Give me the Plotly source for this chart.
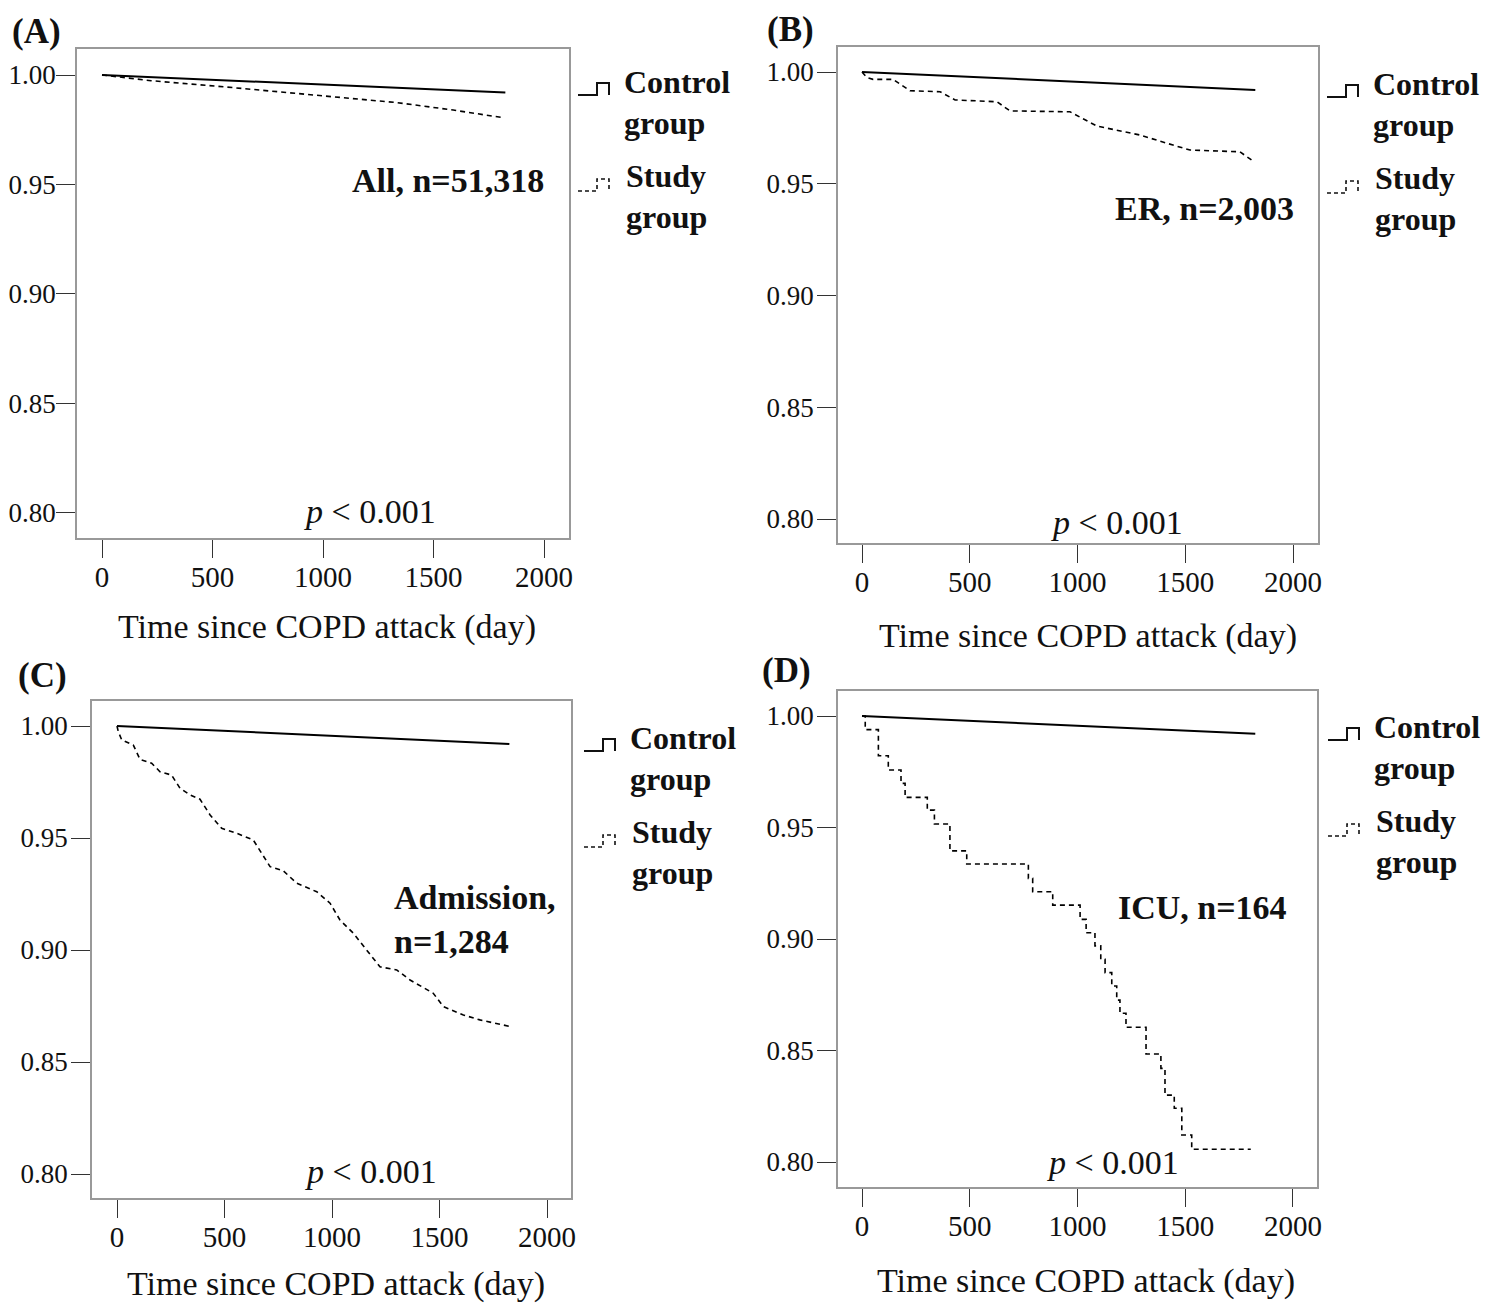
import plotly.graph_objects as go

# viewport 1489x1304; the page body has an 8px margin
OFF = 8
W, H = 1489 - OFF, 1304 - OFF

# ---------------- data ----------------
x_ticks = [0, 500, 1000, 1500, 2000]
y_ticks = [0.80, 0.85, 0.90, 0.95, 1.00]

control_days = [0, 365, 730, 1095, 1460, 1825]
control_surv = [1.0, 0.9984, 0.9968, 0.9952, 0.9936, 0.9920]

all_study_days = [0, 100, 222, 564, 955, 1333, 1589, 1815]
all_study_surv = [1.0, 0.9988, 0.9974, 0.9945, 0.9909, 0.9874, 0.9840, 0.9805]

er_study_days = [0, 22, 51, 144, 223, 362, 432, 626, 687, 965, 1090, 1211, 1290, 1443, 1522, 1754, 1814]
er_study_surv = [1.0, 0.9976, 0.9967, 0.9967, 0.9916, 0.9912, 0.9875, 0.9867, 0.9826, 0.9822,
                 0.9758, 0.9733, 0.9718, 0.9673, 0.9651, 0.9643, 0.9602]

adm_study_days = [0, 6, 22, 76, 107, 161, 200, 254, 293, 340, 386, 433, 487, 557, 634, 680, 712, 773,
                  836, 929, 991, 1037, 1099, 1161, 1223, 1301, 1363, 1471, 1518, 1611, 1688, 1831]
adm_study_surv = [1.0, 0.9975, 0.9938, 0.9915, 0.9851, 0.9834, 0.9796, 0.9781, 0.9722, 0.9692, 0.9673,
                  0.9603, 0.9543, 0.9521, 0.9491, 0.9417, 0.9372, 0.9354, 0.9298, 0.9260, 0.9209,
                  0.9134, 0.9075, 0.9000, 0.8925, 0.8911, 0.8866, 0.8807, 0.8747, 0.8710, 0.8688, 0.8658]

icu_study_days = [0, 15, 76, 122, 181, 200, 303, 336, 408, 486, 772, 792, 885, 1012, 1040, 1081, 1108,
                  1128, 1159, 1182, 1197, 1225, 1318, 1387, 1406, 1449, 1484, 1530, 1804]
icu_study_surv = [1.0, 0.9939, 0.9822, 0.9758, 0.9698, 0.9635, 0.9578, 0.9516, 0.9395, 0.9336, 0.9272,
                  0.9212, 0.9152, 0.9088, 0.9028, 0.8969, 0.8909, 0.8849, 0.8789, 0.8726, 0.8667,
                  0.8604, 0.8484, 0.8420, 0.8300, 0.8241, 0.8121, 0.8057, 0.8057]

panel_letters = ["(A)", "(B)", "(C)", "(D)"]
panel_names = ["All, n=51,318", "ER, n=2,003", "Admission,<br>n=1,284", "ICU, n=164"]
legend_names = ["Control<br>group", "Study<br>group"]
x_title = "Time since COPD attack (day)"
p_text = "<i>p</i> &lt; 0.001"

study_days = [all_study_days, er_study_days, adm_study_days, icu_study_days]
study_surv = [all_study_surv, er_study_surv, adm_study_surv, icu_study_surv]
study_shape = ["linear", "linear", "linear", "hv"]

# ---------------- layout geometry (screen pixels) ----------------
boxes = [(77, 49, 569, 538), (838, 47, 1318, 543), (92, 701, 571, 1198), (838, 691, 1317, 1187)]
xranges = [(-113.1, 2113), (-111.4, 2116), (-116.3, 2111.6), (-111.4, 2111.4)]
yranges = [(0.78858, 1.01187), (0.78926, 1.01119), (0.78929, 1.01116), (0.78879, 1.01121)]
ylabel_standoff = [-5, -2, -2, -2]
letter_pos = [(36, 31), (790, 30), (42, 675), (786, 670)]
title_pos = [(327, 627), (1088, 636), (336, 1284), (1086, 1281)]
pval_pos = [(370, 511), (1117, 522), (371, 1171), (1113, 1162)]
name_pos = [(546, 181, "right"), (1296, 209, "right"), (392, 919, "left"), (1289, 907, "right")]
legend_pos = [(578, 82), (1327, 84), (584, 738), (1328, 727)]

SERIF = "Liberation Serif, Times New Roman, serif"


def px(x):
    return (x - OFF) / W


def py(y):
    return 1 - (y - OFF) / H


fig = go.Figure()
layout = dict(width=W, height=H, margin=dict(l=0, r=0, t=0, b=0, autoexpand=False),
              paper_bgcolor="white", plot_bgcolor="white", showlegend=False)
annotations = []
shapes = []

for i in range(4):
    sfx = "" if i == 0 else str(i + 1)
    xa, ya = "x" + sfx, "y" + sfx
    x0, y0, x1, y1 = boxes[i]
    fig.add_trace(go.Scatter(x=control_days, y=control_surv, mode="lines", xaxis=xa, yaxis=ya,
                             line=dict(color="black", width=2), name="Control group"))
    fig.add_trace(go.Scatter(x=study_days[i], y=study_surv[i], mode="lines", xaxis=xa, yaxis=ya,
                             line=dict(color="black", width=1.6, dash="5px,4px", shape=study_shape[i]),
                             name="Study group"))
    layout["xaxis" + sfx] = dict(domain=[px(x0), px(x1)], range=list(xranges[i]), anchor=ya,
                                 automargin=False,
                                 tickvals=x_ticks, ticks="outside", ticklen=18, tickwidth=1,
                                 ticklabelstandoff=-6,
                                 tickcolor="#333", showgrid=False, zeroline=False,
                                 showline=True, mirror=True, linecolor="#999", linewidth=1.5,
                                 tickfont=dict(family=SERIF, size=29, color="#111"))
    layout["yaxis" + sfx] = dict(domain=[py(y1), py(y0)], range=list(yranges[i]), anchor=xa,
                                 automargin=False,
                                 tickvals=y_ticks, tickformat=".2f", ticks="outside", ticklen=19,
                                 ticklabelstandoff=ylabel_standoff[i],
                                 tickwidth=1, tickcolor="#333", showgrid=False, zeroline=False,
                                 showline=True, mirror=True, linecolor="#999", linewidth=1.5,
                                 tickfont=dict(family=SERIF, size=27, color="#111"))
    # panel letter
    lx, ly = letter_pos[i]
    annotations.append(dict(text="<b>%s</b>" % panel_letters[i], x=px(lx), y=py(ly), xref="paper",
                            yref="paper", showarrow=False, xanchor="center", yanchor="middle",
                            font=dict(family=SERIF, size=35, color="#111")))
    # axis title
    tx, ty = title_pos[i]
    annotations.append(dict(text=x_title, x=px(tx), y=py(ty), xref="paper", yref="paper",
                            showarrow=False, xanchor="center", yanchor="middle",
                            font=dict(family=SERIF, size=34, color="#111")))
    # p value
    pxp, pyp = pval_pos[i]
    annotations.append(dict(text=p_text, x=px(pxp), y=py(pyp), xref="paper", yref="paper",
                            showarrow=False, xanchor="center", yanchor="middle",
                            font=dict(family=SERIF, size=34, color="#111")))
    # panel name
    nx, ny, anc = name_pos[i]
    annotations.append(dict(text="<b>%s</b>" % panel_names[i], x=px(nx), y=py(ny), xref="paper",
                            yref="paper", showarrow=False, xanchor=anc, yanchor="middle",
                            align="left", font=dict(family=SERIF, size=34, color="#111")))
    # legend
    sx, sy = legend_pos[i]
    for k, name in enumerate(legend_names):
        line1, line2 = name.split("<br>")
        base = sy + k * 94
        tx0 = sx + 44 + k * 2
        annotations.append(dict(text="<b>%s</b>" % line1, x=px(tx0), y=py(base), xref="paper",
                                yref="paper", showarrow=False, xanchor="left", yanchor="middle",
                                font=dict(family=SERIF, size=32, color="#111")))
        annotations.append(dict(text="<b>%s</b>" % line2, x=px(tx0), y=py(base + 41), xref="paper",
                                yref="paper", showarrow=False, xanchor="left", yanchor="middle",
                                font=dict(family=SERIF, size=32, color="#111")))
        bot = base + 13 + k * 2
        top = base + 1 + k * 2
        path = "M %f %f L %f %f L %f %f L %f %f L %f %f" % (
            px(sx), py(bot), px(sx + 19), py(bot), px(sx + 19), py(top),
            px(sx + 31), py(top), px(sx + 31), py(bot))
        shapes.append(dict(type="path", path=path, xref="paper", yref="paper",
                           line=dict(color="#111", width=2 if k == 0 else 1.6,
                                     dash="solid" if k == 0 else "4px,3px")))

layout["annotations"] = annotations
layout["shapes"] = shapes
fig.update_layout(**layout)
fig.write_html("out.html")
